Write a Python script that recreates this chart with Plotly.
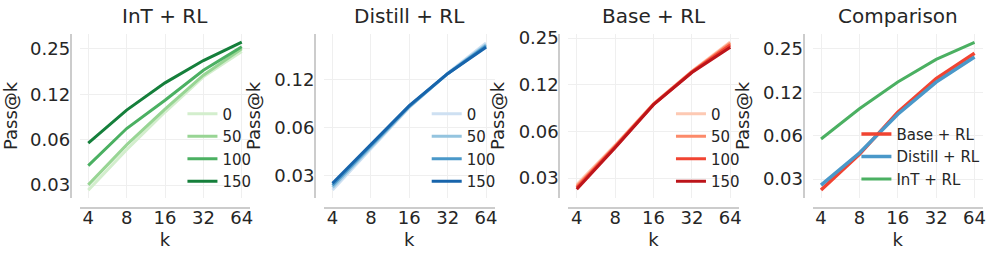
import plotly.graph_objects as go

# ---------------- data ----------------
k_values = [4, 8, 16, 32, 64]
step_labels = ["0", "50", "100", "150"]

int_rl_0 = [0.0289, 0.0535, 0.0952, 0.163, 0.240]
int_rl_50 = [0.0313, 0.0577, 0.0995, 0.167, 0.250]
int_rl_100 = [0.0420, 0.0740, 0.114, 0.180, 0.258]
int_rl_150 = [0.0593, 0.0980, 0.1487, 0.209, 0.277]

distill_rl_0 = [0.0252, 0.0462, 0.0838, 0.138, 0.214]
distill_rl_50 = [0.0262, 0.0470, 0.0845, 0.137, 0.209]
distill_rl_100 = [0.0270, 0.0478, 0.0852, 0.137, 0.205]
distill_rl_150 = [0.0278, 0.0486, 0.0860, 0.137, 0.201]

base_rl_0 = [0.0284, 0.0510, 0.0945, 0.153, 0.236]
base_rl_50 = [0.0277, 0.0503, 0.0940, 0.152, 0.232]
base_rl_100 = [0.0271, 0.0497, 0.0935, 0.151, 0.226]
base_rl_150 = [0.0265, 0.0490, 0.0930, 0.150, 0.218]

cmp_labels = ["Base + RL", "Distill + RL", "InT + RL"]
cmp_base = [0.0263, 0.0464, 0.0910, 0.155, 0.233]
cmp_distill = [0.0284, 0.0474, 0.0880, 0.147, 0.219]
cmp_int = [0.0593, 0.0960, 0.1470, 0.211, 0.277]

panel_titles = ["InT + RL", "Distill + RL", "Base + RL", "Comparison"]
y_tick_vals = [0.03125, 0.0625, 0.125, 0.25]
y_tick_text = ["0.03", "0.06", "0.12", "0.25"]
x_tick_text = ["4", "8", "16", "32", "64"]

# ---------------- style ----------------
greens = ["#d3eecd", "#98d594", "#4bb062", "#157f3b"]
blues = ["#cee0f2", "#94c4df", "#4a98c9", "#1764ab"]
reds = ["#fdc9b3", "#fc8a6a", "#f14432", "#bc141a"]
cmp_colors = ["#f14432", "#4a98c9", "#4bb062"]

W, H = 996, 255
FONT = "DejaVu Sans"
TXT = "#262626"
SPINE = "#cccccc"
GRID = "#efefef"

panel_left = [80 + 245 * i for i in range(4)]
panel_w = 171
top_px, bot_px = 28, 196
xaxis_line_px = 207
yspine_px = [71 + 245 * i for i in range(4)]

y_ranges = [
    [-1.5888, -0.5054],
    [-1.6466, -0.6141],
    [-1.6307, -0.5771],
    [-1.6331, -0.5012],
]
x_range = [0.5355, 1.8727]

fig = go.Figure()

panels = [
    ([int_rl_0, int_rl_50, int_rl_100, int_rl_150], step_labels, greens, [3, 3, 3, 3]),
    ([distill_rl_0, distill_rl_50, distill_rl_100, distill_rl_150], step_labels, blues, [3, 3, 3, 3]),
    ([base_rl_0, base_rl_50, base_rl_100, base_rl_150], step_labels, reds, [3, 3, 3, 3]),
    ([cmp_base, cmp_distill, cmp_int], cmp_labels, cmp_colors, [3.5, 3.5, 3]),
]

for i, (series, labels, colors, widths) in enumerate(panels):
    sfx = "" if i == 0 else str(i + 1)
    leg = "legend" if i == 0 else "legend" + str(i + 1)
    for vals, lab, col, lw in zip(series, labels, colors, widths):
        fig.add_trace(go.Scatter(
            x=k_values, y=vals, mode="lines", name=lab,
            line=dict(color=col, width=lw),
            xaxis="x" + sfx, yaxis="y" + sfx, legend=leg,
        ))

layout = dict(
    width=W, height=H,
    margin=dict(l=0, r=0, t=0, b=0),
    paper_bgcolor="white", plot_bgcolor="white",
    font=dict(family=FONT, color=TXT, size=17),
    annotations=[],
)

for i in range(4):
    sfx = "" if i == 0 else str(i + 1)
    x0 = panel_left[i] / W
    x1 = (panel_left[i] + panel_w) / W
    layout["xaxis" + sfx] = dict(
        type="log", range=x_range, domain=[x0, x1],
        anchor="free", position=1 - xaxis_line_px / H,
        tickvals=k_values, ticktext=x_tick_text,
        showgrid=True, gridcolor=GRID, gridwidth=1,
        showline=True, linecolor=SPINE, linewidth=2,
        ticks="", zeroline=False, ticklabelstandoff=-7,
        tickfont=dict(size=18, family=FONT, color=TXT),
        title=dict(text="k", font=dict(size=18, family=FONT, color=TXT), standoff=5),
    )
    layout["yaxis" + sfx] = dict(
        type="log", range=y_ranges[i],
        domain=[1 - bot_px / H, 1 - top_px / H],
        anchor="free", position=yspine_px[i] / W,
        tickvals=y_tick_vals, ticktext=y_tick_text,
        showgrid=True, gridcolor=GRID, gridwidth=1,
        showline=True, linecolor=SPINE, linewidth=2,
        ticks="", zeroline=False, ticklabelstandoff=-4,
        tickfont=dict(size=18, family=FONT, color=TXT),
        title=dict(text="Pass@k", font=dict(size=18, family=FONT, color=TXT), standoff=8),
    )
    layout["annotations"].append(dict(
        text=panel_titles[i], xref="paper", yref="paper",
        x=(panel_left[i] + panel_w / 2) / W, y=1 - 9 / H,
        xanchor="center", yanchor="middle", showarrow=False,
        font=dict(size=20, family=FONT, color=TXT),
    ))
    leg = "legend" if i == 0 else "legend" + str(i + 1)
    if i < 3:
        lx, ly = 183 + 245 * i, 93
    else:
        lx, ly = 859, 114
    layout[leg] = dict(
        x=lx / W, y=1 - ly / H, xanchor="left", yanchor="top",
        bgcolor="rgba(0,0,0,0)", borderwidth=0,
        font=dict(size=15, family=FONT, color=TXT),
        itemwidth=30, tracegroupgap=0,
    )

fig.update_layout(**layout)
fig.write_html(
    "out.html",
    config={"displayModeBar": False},
    post_script="document.body.style.margin='0';document.body.style.padding='0';",
)
